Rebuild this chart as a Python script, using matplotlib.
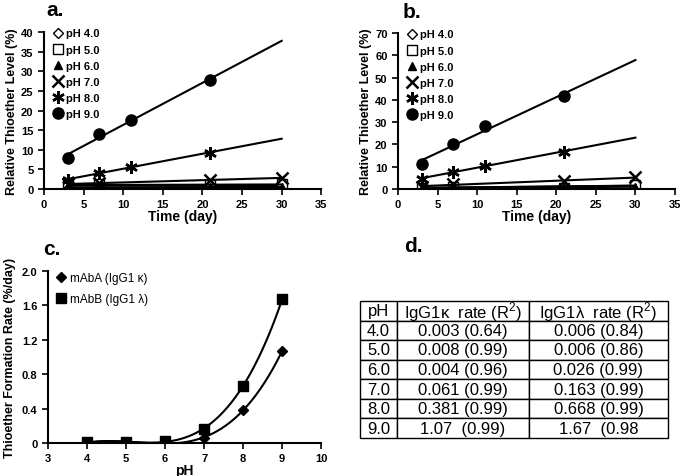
import matplotlib.pyplot as plt
import numpy as np

plt.rcParams['font.family'] = ['Liberation Sans', 'DejaVu Sans']
plt.rcParams['mathtext.fontset'] = 'custom'
plt.rcParams['mathtext.rm'] = 'Liberation Sans'

# panel a / b data (relative thioether level %, by time in days)
days_hi = [3, 7, 11, 21]
days_lo = [3, 7, 21, 30]
ph_labels = ['pH 4.0', 'pH 5.0', 'pH 6.0', 'pH 7.0', 'pH 8.0', 'pH 9.0']

a_ph4 = [0.9, 1.0, 1.0, 1.0]
a_ph5 = [0.9, 1.2, 1.0, 1.2]
a_ph6 = [0.4, 0.5, 0.5, 0.5]
a_ph7 = [1.3, 1.5, 2.2, 2.9]
a_ph8 = [2.3, 4.2, 5.6, 9.3]
a_ph9 = [8.0, 14.0, 17.7, 27.8]

b_ph4 = [0.5, 0.8, 1.0, 1.5]
b_ph5 = [0.5, 0.8, 0.4, 2.0]
b_ph6 = [0.3, 0.5, 0.8, 1.0]
b_ph7 = [0.9, 2.4, 3.6, 5.2]
b_ph8 = [4.5, 7.8, 10.5, 16.8]
b_ph9 = [11.2, 20.3, 28.3, 41.8]

# panel c / d data
ph = [4, 5, 6, 7, 8, 9]
rate_k = [0.003, 0.008, 0.004, 0.061, 0.381, 1.07]
rate_l = [0.006, 0.006, 0.026, 0.163, 0.668, 1.67]
r2_k = ['0.64', '0.99', '0.96', '0.99', '0.99', '0.99']
r2_l = ['0.84', '0.86', '0.99', '0.99', '0.99', '0.98']

markers = [
    dict(marker='D', mfc='white', mec='black', ms=5, mew=1),
    dict(marker='s', mfc='white', mec='black', ms=7, mew=1),
    dict(marker='^', mfc='black', mec='black', ms=6),
    dict(marker='x', mfc='black', mec='black', ms=8, mew=1.8),
    dict(marker=(6, 2, 0), mfc='black', mec='black', ms=9, mew=1.8),
    dict(marker='o', mfc='black', mec='black', ms=8),
]


def style_axes(ax):
    ax.spines['top'].set_visible(False)
    ax.spines['right'].set_visible(False)
    ax.spines['left'].set_linewidth(1.5)
    ax.spines['bottom'].set_linewidth(1.5)
    ax.tick_params(direction='out', width=1.2, length=4, labelsize=8)
    for lab in ax.get_xticklabels() + ax.get_yticklabels():
        lab.set_fontweight('bold')


def time_panel(ax, series, ymax, ystep):
    for i, (t, y) in enumerate(series):
        ax.plot(t, y, ls='none', label=ph_labels[i], **markers[i])
        k, b = np.polyfit(t, y, 1)
        xx = np.array([3, 30])
        ax.plot(xx, k * xx + b, color='black', lw=1.5)
    ax.set_xlim(0, 35)
    ax.set_ylim(0, ymax)
    ax.set_xticks(np.arange(0, 36, 5))
    ax.set_yticks(np.arange(0, ymax + 1, ystep))
    ax.set_xlabel('Time (day)', fontsize=10, fontweight='bold', labelpad=0)
    ax.set_ylabel('Relative Thioether Level (%)', fontsize=9, fontweight='bold', labelpad=2)
    ax.legend(loc='upper left', frameon=False, handletextpad=0.0, labelspacing=0.55,
              borderaxespad=0.0, borderpad=0.1, handlelength=1.4,
              bbox_to_anchor=(0.02, 1.03), prop=dict(size=8, weight='bold'))
    style_axes(ax)


fig = plt.figure(figsize=(6.83, 4.77), dpi=100)

ax_a = fig.add_axes([0.0644, 0.6017, 0.406, 0.329])
time_panel(ax_a, [(days_lo, a_ph4), (days_lo, a_ph5), (days_lo, a_ph6), (days_lo, a_ph7),
                  (days_hi, a_ph8), (days_hi, a_ph9)], 40, 5)
fig.text(0.068, 0.979, 'a.', fontsize=15, fontweight='bold', va='center')

ax_b = fig.add_axes([0.5827, 0.6017, 0.4056, 0.327])
time_panel(ax_b, [(days_lo, b_ph4), (days_lo, b_ph5), (days_lo, b_ph6), (days_lo, b_ph7),
                  (days_hi, b_ph8), (days_hi, b_ph9)], 70, 10)
fig.text(0.589, 0.974, 'b.', fontsize=15, fontweight='bold', va='center')

# panel c
ax_c = fig.add_axes([0.0703, 0.0692, 0.4, 0.3606])
xs = np.linspace(4, 9, 200)
for y, mk, lab in [(rate_k, dict(marker='D', ms=5), 'mAbA (IgG1 κ)'),
                   (rate_l, dict(marker='s', ms=7), 'mAbB (IgG1 λ)')]:
    ax_c.plot(ph, y, ls='none', color='black', label=lab, **mk)
    coef = np.polyfit(ph, y, 3)
    ax_c.plot(xs, np.polyval(coef, xs), color='black', lw=1.5)
ax_c.set_xlim(3, 10)
ax_c.set_ylim(0, 2.0)
ax_c.set_xticks(range(3, 11))
ax_c.set_yticks([0, 0.4, 0.8, 1.2, 1.6, 2.0])
ax_c.set_yticklabels(['0', '0.4', '0.8', '1.2', '1.6', '2.0'])
ax_c.set_xlabel('pH', fontsize=10, fontweight='bold', labelpad=0)
ax_c.set_ylabel('Thioether Formation Rate (%/day)', fontsize=9, fontweight='bold', labelpad=4)
ax_c.legend(loc='upper left', frameon=False, handletextpad=0.3, labelspacing=0.75,
            borderaxespad=0.0, borderpad=0.1, handlelength=1.0,
            bbox_to_anchor=(0.02, 1.0), prop=dict(size=8.5))
style_axes(ax_c)
fig.text(0.063, 0.476, 'c.', fontsize=15, fontweight='bold', va='center')

# panel d
ax_d = fig.add_axes([0.527, 0.0797, 0.451, 0.2872])
ax_d.axis('off')
header = ['pH', 'IgG1κ  rate (R$^2$)', 'IgG1λ  rate (R$^2$)']
cells = []
for i in range(len(ph)):
    if rate_k[i] >= 1:
        k_txt = '%.2f  (%s)' % (rate_k[i], r2_k[i])
    else:
        k_txt = '%.3f (%s)' % (rate_k[i], r2_k[i])
    if rate_l[i] >= 1:
        l_txt = '%.2f  (%s' % (rate_l[i], r2_l[i])
    else:
        l_txt = '%.3f (%s)' % (rate_l[i], r2_l[i])
    cells.append(['%.1f' % ph[i], k_txt, l_txt])
tab = ax_d.table(cellText=cells, colLabels=header, colWidths=[37, 132, 139],
                 cellLoc='center', bbox=[0, 0, 1, 1])
tab.auto_set_font_size(False)
for (r, c), cell in tab.get_celld().items():
    cell.set_fontsize(12)
    cell.set_linewidth(1.0)
    cell.PAD = 0.02
fig.text(0.591, 0.484, 'd.', fontsize=15, fontweight='bold', va='center')

fig.savefig('out.png', dpi=100)
